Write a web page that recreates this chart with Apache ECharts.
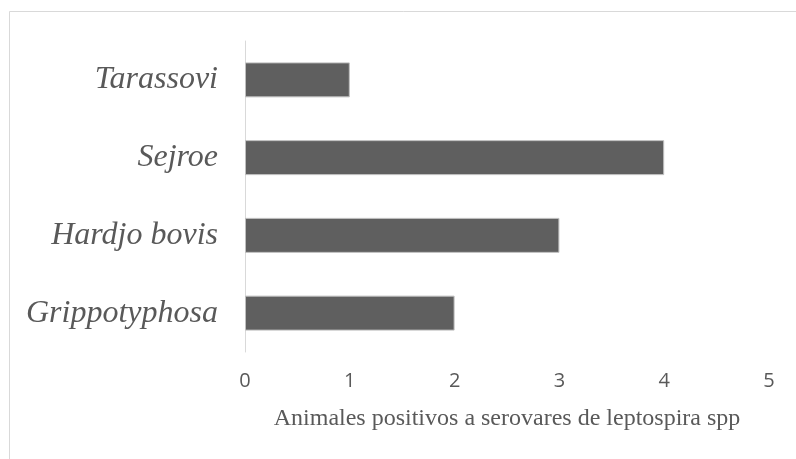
<!DOCTYPE html>
<html><head><meta charset="utf-8">
<script src="https://cdn.jsdelivr.net/npm/echarts@6/dist/echarts.min.js"></script>
<style>html,body{margin:0;padding:0;background:#fff}#c{width:796px;height:459px}</style>
</head><body><div id="c"></div>
<script>
var categories = ['Grippotyphosa', 'Hardjo bovis', 'Sejroe', 'Tarassovi'];
var values = [2, 3, 4, 1];
var xTicks = [0, 1, 2, 3, 4, 5];
var axisTitle = 'Animales positivos a serovares de leptospira spp';

var chart = echarts.init(document.getElementById('c'), null, {renderer: 'canvas'});
chart.setOption({
  animation: false,
  backgroundColor: '#ffffff',
  graphic: [
    {type: 'line', shape: {x1: 9.5, y1: 11.5, x2: 800, y2: 11.5}, style: {stroke: '#d9d9d9', lineWidth: 1}},
    {type: 'line', shape: {x1: 9.5, y1: 11.5, x2: 9.5, y2: 470}, style: {stroke: '#d9d9d9', lineWidth: 1}}
  ],
  grid: {left: 245, right: 27, top: 41, bottom: 107, containLabel: false},
  xAxis: {
    type: 'value', min: xTicks[0], max: xTicks[xTicks.length - 1], interval: 1,
    axisLine: {show: false}, axisTick: {show: false}, splitLine: {show: false},
    axisLabel: {color: '#595959', fontFamily: 'Open Sans', fontSize: 20, margin: 19},
    name: axisTitle, nameLocation: 'middle', nameGap: 55,
    nameTextStyle: {color: '#595959', fontFamily: 'Liberation Serif', fontSize: 24}
  },
  yAxis: {
    type: 'category', data: categories,
    axisLine: {show: true, lineStyle: {color: '#d9d9d9', width: 1}},
    axisTick: {show: false},
    axisLabel: {color: '#595959', fontFamily: 'Liberation Serif', fontStyle: 'italic', fontSize: 32, margin: 27}
  },
  series: [{
    type: 'bar', data: values, barCategoryGap: '55%',
    itemStyle: {color: '#5f5f5f', borderColor: '#bfbfbf', borderWidth: 1}
  }]
});
</script></body></html>
